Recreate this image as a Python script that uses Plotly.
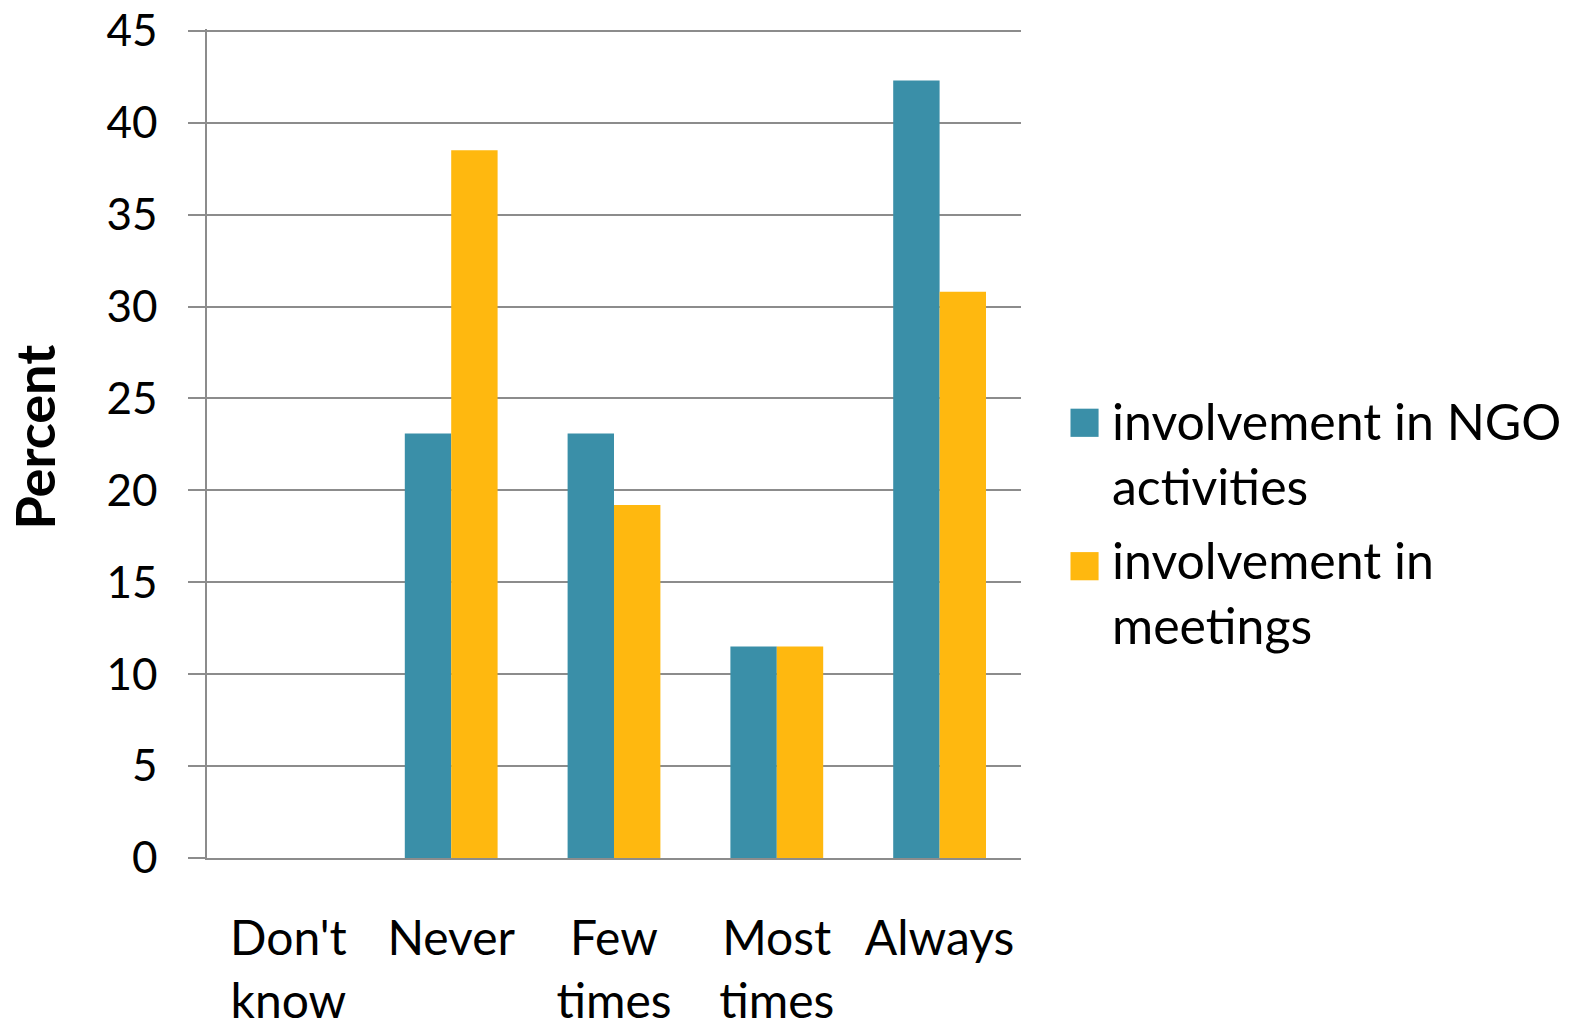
import plotly.graph_objects as go

# survey answers, share of respondents in percent
categories = ["Don't<br>know", "Never", "Few<br>times", "Most<br>times", "Always"]
ngo_activities = [0, 23.1, 23.1, 11.5, 42.3]
meetings = [0, 38.5, 19.2, 11.5, 30.8]
y_ticks = [0, 5, 10, 15, 20, 25, 30, 35, 40, 45]
series_names = ["involvement in NGO<br>activities", "involvement in<br>meetings"]
series_colors = ["#3a8fa8", "#ffb80f"]

FONT = "Lato"
GRID = "#8c8c8c"

fig = go.Figure()
for name, vals, col in zip(series_names, [ngo_activities, meetings], series_colors):
    fig.add_trace(go.Bar(x=categories, y=vals, name=name,
                         marker=dict(color=col, line=dict(width=0))))

# legend drawn by hand so the swatches can be as big as in the original
legend_rows = [(0.542, 0.508, 0.4876), (0.369, 0.335, 0.3206)]
for (top, bottom, mid), name, col in zip(legend_rows, series_names, series_colors):
    fig.add_shape(type="rect", xref="paper", yref="paper", x0=1.0608, x1=1.0953,
                  y0=bottom, y1=top, fillcolor=col, line=dict(width=0))
    fig.add_annotation(text=name, xref="paper", yref="paper", x=1.109, y=mid,
                       xanchor="left", yanchor="middle", align="left", showarrow=False,
                       font=dict(size=50, family=FONT, color="black"))

fig.add_annotation(text="<b>Percent</b>", x=-0.254, y=0.508, xref="paper", yref="paper",
                   textangle=-90, showarrow=False, font=dict(size=54, family=FONT, color="black"))

fig.update_layout(
    width=1578, height=1022,
    margin=dict(l=199, r=565, t=21, b=172),
    paper_bgcolor="white", plot_bgcolor="white",
    barmode="group", bargap=0.43, bargroupgap=0,
    font=dict(family=FONT, color="black"),
    showlegend=False,
)

fig.update_yaxes(
    range=[0, 45.1], tickvals=y_ticks, showgrid=True, gridcolor=GRID, gridwidth=1.5,
    showline=True, linecolor=GRID, linewidth=1.5,
    ticks="outside", ticklen=17, tickcolor=GRID, tickwidth=1.5,
    tickfont=dict(size=44, family=FONT), ticklabelstandoff=22, ticklabeloverflow="allow",
    zeroline=False, automargin=False,
)
fig.update_xaxes(
    showline=True, linecolor=GRID, linewidth=1.5, ticks="",
    tickfont=dict(size=48, family=FONT), ticklabelstandoff=38, ticklabeloverflow="allow",
    automargin=False,
)

fig.write_html("out.html")
